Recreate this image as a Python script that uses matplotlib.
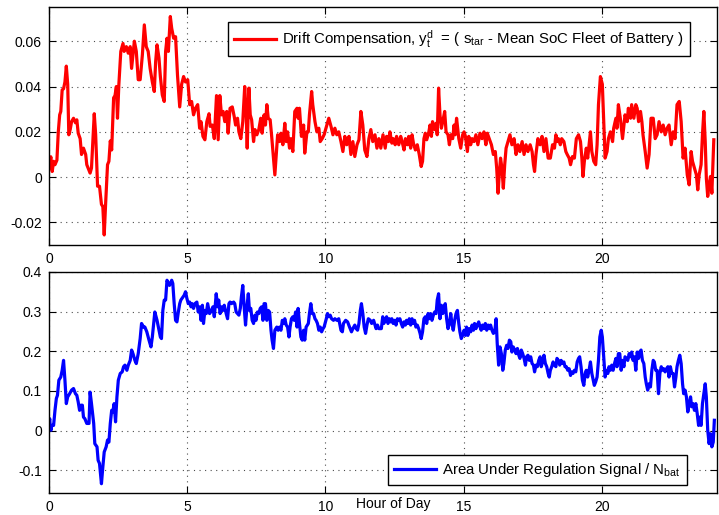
import matplotlib
matplotlib.use('Agg')
import matplotlib.pyplot as plt
from matplotlib.ticker import FormatStrFormatter

plt.rcParams['font.family'] = ['Liberation Sans', 'DejaVu Sans']
plt.rcParams['mathtext.fontset'] = 'custom'
plt.rcParams['mathtext.rm'] = 'Liberation Sans'
plt.rcParams['mathtext.it'] = 'Liberation Sans:italic'

# hour of day / drift compensation (top panel)
hours_drift = [
    0.00, 0.07, 0.12, 0.17, 0.22, 0.29, 0.34, 0.39, 0.43, 0.48, 0.53, 0.58, 0.63, 0.68, 0.72, 0.77,
    0.82, 0.89, 0.96, 1.01, 1.06, 1.13, 1.18, 1.25, 1.33, 1.37, 1.42, 1.49, 1.54, 1.64, 1.69, 1.76,
    1.83, 1.90, 1.95, 2.00, 2.05, 2.12, 2.17, 2.22, 2.27, 2.34, 2.39, 2.44, 2.48, 2.53, 2.60, 2.68,
    2.72, 2.80, 2.87, 2.94, 2.99, 3.04, 3.09, 3.16, 3.23, 3.30, 3.38, 3.45, 3.52, 3.59, 3.66, 3.74,
    3.81, 3.86, 3.91, 3.98, 4.03, 4.10, 4.17, 4.22, 4.27, 4.32, 4.39, 4.44, 4.51, 4.58, 4.65, 4.73,
    4.80, 4.87, 4.94, 5.02, 5.09, 5.16, 5.23, 5.30, 5.38, 5.45, 5.50, 5.57, 5.64, 5.71, 5.79, 5.83,
    5.91, 5.98, 6.06, 6.12, 6.18, 6.24, 6.30, 6.36, 6.43, 6.48, 6.55, 6.63, 6.70, 6.75, 6.82, 6.87,
    6.94, 7.01, 7.08, 7.13, 7.17, 7.23, 7.28, 7.33, 7.40, 7.45, 7.52, 7.59, 7.66, 7.71, 7.78, 7.83,
    7.88, 7.93, 8.00, 8.05, 8.10, 8.17, 8.22, 8.27, 8.34, 8.39, 8.46, 8.53, 8.58, 8.63, 8.70, 8.75,
    8.82, 8.89, 8.97, 9.01, 9.06, 9.13, 9.21, 9.25, 9.33, 9.38, 9.42, 9.50, 9.54, 9.62, 9.69, 9.76,
    9.81, 9.88, 9.95, 10.05, 10.12, 10.20, 10.27, 10.34, 10.41, 10.48, 10.56, 10.63, 10.70, 10.77,
    10.85, 10.92, 10.99, 11.06, 11.14, 11.21, 11.28, 11.35, 11.42, 11.50, 11.57, 11.64, 11.71,
    11.79, 11.86, 11.93, 12.00, 12.08, 12.16, 12.21, 12.28, 12.33, 12.40, 12.45, 12.52, 12.57,
    12.65, 12.72, 12.77, 12.84, 12.89, 12.96, 13.01, 13.08, 13.13, 13.18, 13.25, 13.32, 13.39,
    13.46, 13.51, 13.56, 13.61, 13.66, 13.73, 13.78, 13.83, 13.87, 13.95, 14.00, 14.04, 14.09,
    14.14, 14.19, 14.24, 14.31, 14.36, 14.43, 14.48, 14.53, 14.60, 14.65, 14.69, 14.74, 14.82,
    14.89, 14.96, 15.01, 15.06, 15.13, 15.18, 15.25, 15.30, 15.37, 15.44, 15.51, 15.59, 15.66,
    15.73, 15.80, 15.85, 15.92, 16.00, 16.07, 16.14, 16.19, 16.24, 16.29, 16.33, 16.38, 16.43,
    16.48, 16.53, 16.60, 16.67, 16.74, 16.82, 16.89, 16.96, 17.03, 17.11, 17.18, 17.25, 17.32,
    17.40, 17.47, 17.52, 17.56, 17.61, 17.68, 17.76, 17.83, 17.90, 17.97, 18.05, 18.13, 18.21,
    18.28, 18.33, 18.37, 18.42, 18.49, 18.54, 18.62, 18.69, 18.74, 18.81, 18.86, 18.93, 19.00,
    19.07, 19.15, 19.22, 19.27, 19.31, 19.36, 19.43, 19.48, 19.53, 19.58, 19.63, 19.70, 19.77,
    19.82, 19.87, 19.94, 20.01, 20.06, 20.11, 20.18, 20.23, 20.30, 20.38, 20.42, 20.50, 20.54,
    20.59, 20.66, 20.74, 20.79, 20.83, 20.91, 20.95, 21.03, 21.07, 21.15, 21.22, 21.27, 21.32,
    21.39, 21.44, 21.48, 21.56, 21.63, 21.70, 21.77, 21.85, 21.92, 21.99, 22.06, 22.14, 22.21,
    22.28, 22.35, 22.42, 22.50, 22.57, 22.64, 22.71, 22.79, 22.86, 22.93, 23.00, 23.08, 23.15,
    23.22, 23.27, 23.34, 23.41, 23.46, 23.51, 23.58, 23.63, 23.68, 23.73, 23.77, 23.82, 23.87,
    23.92, 23.97, 24.00, 24.04,
]
drift = [
    0.0040, 0.0090, 0.0025, 0.0070, 0.0055, 0.0075, 0.0200, 0.0275, 0.0290, 0.0385, 0.0390, 0.0420,
    0.0490, 0.0410, 0.0187, 0.0210, 0.0245, 0.0260, 0.0240, 0.0253, 0.0194, 0.0170, 0.0100, 0.0128,
    0.0100, 0.0055, 0.0040, 0.0018, 0.0040, 0.0280, 0.0190, -0.0040, -0.0040, -0.0120, -0.0130,
    -0.0255, -0.0120, 0.0055, 0.0070, 0.0160, 0.0120, 0.0350, 0.0360, 0.0400, 0.0260, 0.0410,
    0.0555, 0.0590, 0.0555, 0.0576, 0.0547, 0.0576, 0.0480, 0.0540, 0.0600, 0.0555, 0.0430, 0.0430,
    0.0540, 0.0672, 0.0576, 0.0555, 0.0480, 0.0420, 0.0378, 0.0510, 0.0584, 0.0525, 0.0444, 0.0363,
    0.0334, 0.0555, 0.0613, 0.0555, 0.0709, 0.0657, 0.0613, 0.0620, 0.0450, 0.0310, 0.0410, 0.0444,
    0.0420, 0.0430, 0.0320, 0.0334, 0.0275, 0.0304, 0.0320, 0.0216, 0.0245, 0.0180, 0.0165, 0.0245,
    0.0280, 0.0224, 0.0230, 0.0170, 0.0360, 0.0165, 0.0360, 0.0275, 0.0290, 0.0245, 0.0290, 0.0194,
    0.0304, 0.0310, 0.0268, 0.0230, 0.0260, 0.0200, 0.0170, 0.0245, 0.0400, 0.0290, 0.0128, 0.0393,
    0.0275, 0.0253, 0.0157, 0.0210, 0.0187, 0.0210, 0.0260, 0.0194, 0.0275, 0.0230, 0.0320, 0.0260,
    0.0253, 0.0187, 0.0113, 0.0010, 0.0100, 0.0187, 0.0157, 0.0194, 0.0143, 0.0238, 0.0157, 0.0200,
    0.0128, 0.0170, 0.0113, 0.0290, 0.0304, 0.0260, 0.0304, 0.0180, 0.0230, 0.0106, 0.0200, 0.0200,
    0.0275, 0.0378, 0.0320, 0.0245, 0.0200, 0.0216, 0.0157, 0.0170, 0.0187, 0.0230, 0.0260, 0.0224,
    0.0187, 0.0216, 0.0187, 0.0200, 0.0157, 0.0113, 0.0180, 0.0143, 0.0180, 0.0100, 0.0157, 0.0091,
    0.0143, 0.0165, 0.0290, 0.0230, 0.0120, 0.0091, 0.0170, 0.0210, 0.0157, 0.0187, 0.0128, 0.0170,
    0.0128, 0.0187, 0.0128, 0.0180, 0.0157, 0.0200, 0.0150, 0.0170, 0.0143, 0.0180, 0.0143, 0.0180,
    0.0157, 0.0120, 0.0170, 0.0143, 0.0180, 0.0128, 0.0187, 0.0150, 0.0120, 0.0143, 0.0100, 0.0047,
    0.0070, 0.0170, 0.0194, 0.0165, 0.0194, 0.0230, 0.0180, 0.0245, 0.0210, 0.0238, 0.0187, 0.0393,
    0.0275, 0.0216, 0.0245, 0.0290, 0.0200, 0.0187, 0.0143, 0.0187, 0.0170, 0.0230, 0.0187, 0.0260,
    0.0170, 0.0128, 0.0187, 0.0200, 0.0180, 0.0113, 0.0180, 0.0143, 0.0170, 0.0157, 0.0187, 0.0143,
    0.0194, 0.0170, 0.0200, 0.0143, 0.0194, 0.0170, 0.0143, 0.0100, 0.0113, 0.0040, -0.0071, 0.0025,
    0.0084, 0.0040, -0.0049, 0.0055, 0.0128, 0.0157, 0.0187, 0.0143, 0.0170, 0.0100, 0.0143, 0.0113,
    0.0157, 0.0100, 0.0143, 0.0113, 0.0143, 0.0113, 0.0055, 0.0025, 0.0100, 0.0170, 0.0143, 0.0180,
    0.0113, 0.0170, 0.0084, 0.0084, 0.0143, 0.0128, 0.0187, 0.0157, 0.0170, 0.0143, 0.0170, 0.0157,
    0.0113, 0.0100, 0.0084, 0.0055, 0.0091, 0.0084, 0.0170, 0.0187, 0.0157, 0.0084, 0.0003, 0.0070,
    0.0128, 0.0084, 0.0143, 0.0200, 0.0113, 0.0070, 0.0055, 0.0143, 0.0320, 0.0444, 0.0410, 0.0245,
    0.0084, 0.0113, 0.0170, 0.0200, 0.0157, 0.0216, 0.0260, 0.0216, 0.0320, 0.0260, 0.0170, 0.0230,
    0.0275, 0.0245, 0.0304, 0.0260, 0.0320, 0.0260, 0.0320, 0.0304, 0.0245, 0.0290, 0.0245, 0.0187,
    0.0113, 0.0040, 0.0100, 0.0260, 0.0260, 0.0170, 0.0187, 0.0245, 0.0200, 0.0230, 0.0187, 0.0216,
    0.0230, 0.0143, 0.0200, 0.0170, 0.0320, 0.0334, 0.0245, 0.0084, 0.0128, 0.0010, -0.0034, 0.0113,
    0.0070, 0.0040, 0.0010, -0.0056, 0.0010, 0.0055, 0.0187, 0.0290, 0.0157, -0.0004, -0.0085,
    -0.0034, 0.0003, -0.0071, 0.0025, 0.0165,
]

# hour of day / area under regulation signal (bottom panel)
hours_area = [
    0.00, 0.03, 0.05, 0.08, 0.10, 0.17, 0.22, 0.27, 0.31, 0.36, 0.43, 0.48, 0.53, 0.58, 0.63, 0.68,
    0.75, 0.82, 0.89, 0.96, 1.01, 1.06, 1.11, 1.16, 1.21, 1.25, 1.30, 1.37, 1.45, 1.49, 1.54, 1.62,
    1.66, 1.74, 1.78, 1.83, 1.90, 1.95, 2.00, 2.07, 2.12, 2.17, 2.22, 2.27, 2.31, 2.36, 2.41, 2.46,
    2.51, 2.58, 2.65, 2.70, 2.75, 2.82, 2.87, 2.94, 2.99, 3.04, 3.11, 3.16, 3.23, 3.30, 3.35, 3.42,
    3.47, 3.54, 3.62, 3.69, 3.74, 3.79, 3.83, 3.91, 3.98, 4.03, 4.07, 4.12, 4.17, 4.22, 4.27, 4.32,
    4.36, 4.44, 4.48, 4.53, 4.58, 4.63, 4.68, 4.73, 4.77, 4.85, 4.89, 4.94, 4.99, 5.04, 5.09, 5.14,
    5.18, 5.23, 5.28, 5.35, 5.40, 5.45, 5.50, 5.55, 5.59, 5.64, 5.69, 5.74, 5.81, 5.88, 5.93, 5.98,
    6.05, 6.10, 6.14, 6.19, 6.24, 6.29, 6.34, 6.41, 6.46, 6.51, 6.55, 6.60, 6.68, 6.72, 6.77, 6.82,
    6.87, 6.92, 6.96, 7.01, 7.06, 7.11, 7.16, 7.21, 7.25, 7.30, 7.35, 7.40, 7.45, 7.49, 7.54, 7.59,
    7.64, 7.69, 7.74, 7.78, 7.83, 7.88, 7.93, 7.98, 8.03, 8.07, 8.12, 8.17, 8.24, 8.29, 8.34, 8.39,
    8.44, 8.48, 8.53, 8.58, 8.63, 8.68, 8.72, 8.77, 8.82, 8.87, 8.92, 8.97, 9.01, 9.06, 9.11, 9.16,
    9.21, 9.25, 9.30, 9.38, 9.42, 9.47, 9.52, 9.57, 9.62, 9.66, 9.71, 9.76, 9.81, 9.86, 9.91, 9.95,
    10.03, 10.07, 10.12, 10.17, 10.22, 10.29, 10.34, 10.41, 10.48, 10.56, 10.61, 10.65, 10.73,
    10.80, 10.87, 10.94, 10.99, 11.06, 11.11, 11.16, 11.21, 11.26, 11.30, 11.35, 11.40, 11.45,
    11.50, 11.55, 11.62, 11.67, 11.74, 11.79, 11.83, 11.88, 11.93, 12.02, 12.07, 12.11, 12.16,
    12.21, 12.26, 12.31, 12.36, 12.40, 12.45, 12.50, 12.55, 12.60, 12.65, 12.69, 12.74, 12.79,
    12.84, 12.89, 12.93, 12.98, 13.03, 13.08, 13.13, 13.18, 13.22, 13.27, 13.32, 13.37, 13.42,
    13.46, 13.51, 13.56, 13.61, 13.66, 13.71, 13.75, 13.80, 13.85, 13.90, 13.95, 14.00, 14.04,
    14.09, 14.14, 14.19, 14.24, 14.28, 14.33, 14.38, 14.43, 14.48, 14.53, 14.57, 14.62, 14.67,
    14.72, 14.77, 14.82, 14.86, 14.91, 14.96, 15.01, 15.06, 15.10, 15.15, 15.20, 15.25, 15.30,
    15.35, 15.39, 15.44, 15.49, 15.54, 15.59, 15.63, 15.68, 15.73, 15.78, 15.83, 15.88, 15.92,
    15.97, 16.02, 16.07, 16.12, 16.17, 16.21, 16.26, 16.31, 16.36, 16.41, 16.45, 16.50, 16.55,
    16.60, 16.65, 16.70, 16.74, 16.79, 16.84, 16.89, 16.94, 16.99, 17.03, 17.08, 17.13, 17.18,
    17.23, 17.27, 17.32, 17.37, 17.42, 17.47, 17.52, 17.56, 17.61, 17.66, 17.71, 17.76, 17.80,
    17.85, 17.90, 17.95, 18.00, 18.05, 18.09, 18.13, 18.18, 18.23, 18.28, 18.33, 18.37, 18.42,
    18.47, 18.52, 18.57, 18.62, 18.66, 18.71, 18.76, 18.81, 18.86, 18.90, 18.95, 19.00, 19.05,
    19.10, 19.15, 19.19, 19.24, 19.29, 19.34, 19.39, 19.43, 19.48, 19.53, 19.58, 19.63, 19.68,
    19.72, 19.77, 19.82, 19.87, 19.92, 19.97, 20.01, 20.06, 20.11, 20.16, 20.21, 20.25, 20.30,
    20.35, 20.40, 20.45, 20.50, 20.54, 20.59, 20.64, 20.69, 20.74, 20.79, 20.83, 20.88, 20.93,
    20.98, 21.03, 21.07, 21.12, 21.17, 21.22, 21.27, 21.32, 21.36, 21.41, 21.46, 21.51, 21.56,
    21.60, 21.65, 21.70, 21.75, 21.80, 21.85, 21.89, 21.94, 21.99, 22.04, 22.09, 22.14, 22.18,
    22.23, 22.28, 22.33, 22.38, 22.42, 22.47, 22.52, 22.57, 22.62, 22.67, 22.71, 22.76, 22.81,
    22.86, 22.91, 22.95, 23.00, 23.05, 23.10, 23.15, 23.20, 23.24, 23.29, 23.34, 23.39, 23.44,
    23.49, 23.53, 23.58, 23.63, 23.68, 23.73, 23.77, 23.82, 23.87, 23.92, 23.97, 24.02, 24.06,
]
area = [
    0.018, 0.030, 0.009, 0.001, 0.013, 0.013, 0.051, 0.081, 0.089, 0.127, 0.135, 0.152, 0.177, 0.127,
    0.068, 0.085, 0.093, 0.102, 0.106, 0.093, 0.089, 0.072, 0.051, 0.064, 0.064, 0.034, 0.030, 0.018,
    0.018, 0.097, 0.068, 0.018, -0.033, -0.041, -0.075, -0.083, -0.134, -0.092, -0.054, -0.041,
    -0.024, -0.029, 0.018, 0.051, 0.047, 0.068, 0.022, 0.085, 0.127, 0.144, 0.148, 0.161, 0.165,
    0.152, 0.165, 0.177, 0.203, 0.194, 0.177, 0.169, 0.194, 0.232, 0.270, 0.261, 0.261, 0.249, 0.228,
    0.211, 0.236, 0.270, 0.299, 0.278, 0.253, 0.236, 0.232, 0.303, 0.329, 0.329, 0.379, 0.371, 0.366,
    0.379, 0.371, 0.320, 0.278, 0.274, 0.299, 0.320, 0.329, 0.337, 0.341, 0.350, 0.333, 0.320, 0.324,
    0.312, 0.320, 0.308, 0.320, 0.324, 0.299, 0.312, 0.278, 0.316, 0.270, 0.303, 0.295, 0.320, 0.295,
    0.303, 0.312, 0.287, 0.345, 0.312, 0.329, 0.295, 0.312, 0.303, 0.316, 0.295, 0.282, 0.320, 0.324,
    0.320, 0.324, 0.320, 0.299, 0.295, 0.291, 0.308, 0.337, 0.366, 0.312, 0.266, 0.312, 0.345, 0.303,
    0.308, 0.278, 0.270, 0.291, 0.278, 0.299, 0.295, 0.308, 0.312, 0.278, 0.320, 0.320, 0.278, 0.303,
    0.299, 0.253, 0.228, 0.207, 0.253, 0.261, 0.253, 0.261, 0.253, 0.278, 0.270, 0.282, 0.266, 0.261,
    0.236, 0.261, 0.282, 0.287, 0.278, 0.299, 0.261, 0.308, 0.270, 0.236, 0.228, 0.253, 0.228, 0.261,
    0.270, 0.295, 0.320, 0.295, 0.295, 0.282, 0.278, 0.270, 0.253, 0.261, 0.249, 0.257, 0.261, 0.282,
    0.295, 0.287, 0.291, 0.282, 0.278, 0.282, 0.278, 0.282, 0.253, 0.249, 0.270, 0.278, 0.274, 0.261,
    0.249, 0.257, 0.266, 0.257, 0.253, 0.270, 0.303, 0.320, 0.295, 0.261, 0.245, 0.266, 0.282, 0.278,
    0.270, 0.278, 0.266, 0.257, 0.266, 0.257, 0.257, 0.287, 0.270, 0.278, 0.287, 0.270, 0.282, 0.274,
    0.282, 0.270, 0.278, 0.266, 0.282, 0.278, 0.282, 0.270, 0.261, 0.274, 0.266, 0.278, 0.270, 0.282,
    0.266, 0.282, 0.270, 0.278, 0.261, 0.266, 0.257, 0.245, 0.232, 0.249, 0.282, 0.287, 0.270, 0.295,
    0.282, 0.295, 0.278, 0.291, 0.299, 0.295, 0.329, 0.345, 0.282, 0.316, 0.295, 0.308, 0.320, 0.282,
    0.257, 0.270, 0.295, 0.270, 0.253, 0.278, 0.295, 0.303, 0.270, 0.249, 0.232, 0.240, 0.253, 0.240,
    0.261, 0.240, 0.257, 0.249, 0.266, 0.253, 0.270, 0.257, 0.266, 0.274, 0.261, 0.253, 0.266, 0.257,
    0.270, 0.253, 0.266, 0.257, 0.266, 0.253, 0.245, 0.249, 0.282, 0.219, 0.165, 0.211, 0.194, 0.152,
    0.169, 0.203, 0.215, 0.207, 0.228, 0.224, 0.198, 0.211, 0.203, 0.194, 0.207, 0.190, 0.182, 0.203,
    0.194, 0.182, 0.165, 0.186, 0.190, 0.177, 0.186, 0.169, 0.165, 0.148, 0.165, 0.161, 0.177, 0.186,
    0.161, 0.173, 0.190, 0.169, 0.161, 0.144, 0.135, 0.152, 0.161, 0.173, 0.165, 0.161, 0.182, 0.177,
    0.165, 0.177, 0.169, 0.173, 0.161, 0.161, 0.152, 0.156, 0.139, 0.148, 0.144, 0.152, 0.148, 0.173,
    0.182, 0.186, 0.161, 0.127, 0.114, 0.144, 0.152, 0.135, 0.152, 0.173, 0.144, 0.127, 0.114, 0.123,
    0.135, 0.177, 0.236, 0.253, 0.236, 0.186, 0.135, 0.152, 0.144, 0.161, 0.152, 0.165, 0.152, 0.169,
    0.182, 0.161, 0.194, 0.194, 0.152, 0.177, 0.161, 0.186, 0.182, 0.177, 0.194, 0.186, 0.198, 0.177,
    0.186, 0.152, 0.198, 0.182, 0.198, 0.203, 0.177, 0.169, 0.135, 0.118, 0.102, 0.118, 0.110, 0.152,
    0.177, 0.173, 0.152, 0.152, 0.093, 0.144, 0.161, 0.152, 0.156, 0.148, 0.156, 0.161, 0.135, 0.161,
    0.144, 0.144, 0.110, 0.135, 0.161, 0.177, 0.190, 0.169, 0.118, 0.093, 0.102, 0.085, 0.047, 0.068,
    0.085, 0.060, 0.068, 0.051, 0.068, 0.043, 0.013, 0.034, 0.013, 0.068, 0.093, 0.118, 0.085, 0.001,
    -0.033, -0.008, -0.041, -0.029, 0.026,
]

x_ticks = [0, 5, 10, 15, 20]
drift_ticks = [-0.02, 0, 0.02, 0.04, 0.06]
area_ticks = [-0.1, 0, 0.1, 0.2, 0.3, 0.4]

fig = plt.figure(figsize=(7.19, 5.15), dpi=100)
ax1 = fig.add_axes([0.068, 0.524, 0.929, 0.462])
ax2 = fig.add_axes([0.068, 0.043, 0.929, 0.429])

ax1.plot(hours_drift, drift, color='red', lw=2.3,
         label=r'Drift Compensation, $\mathrm{y_t^d}$  = ( $\mathrm{s_{tar}}$ - Mean SoC Fleet of Battery )')
ax2.plot(hours_area, area, color='blue', lw=2.3,
         label=r'Area Under Regulation Signal / $\mathrm{N_{bat}}$')

ax1.set_ylim(-0.03, 0.075)
ax1.set_yticks(drift_ticks)
ax2.set_ylim(-0.157, 0.4)
ax2.set_yticks(area_ticks)

for ax in (ax1, ax2):
    ax.set_xlim(0, 24.15)
    ax.set_xticks(x_ticks)
    ax.yaxis.set_major_formatter(FormatStrFormatter('%g'))
    ax.grid(True, linestyle=(0, (1, 4)), color='0.3', lw=0.8)
    ax.tick_params(direction='in', top=True, right=True, length=5, labelsize=10, pad=5)
    for s in ax.spines.values():
        s.set_linewidth(1.0)

ax1.legend(loc='upper right', bbox_to_anchor=(0.96, 0.937), borderaxespad=0,
           fancybox=False, framealpha=1, edgecolor='black', fontsize=10.8,
           handlelength=2.8, handletextpad=0.45)
ax2.legend(loc='lower right', bbox_to_anchor=(0.955, 0.036), borderaxespad=0,
           fancybox=False, framealpha=1, edgecolor='black', fontsize=10.8,
           handlelength=2.8, handletextpad=0.45)

fig.text(0.547, 0.021, 'Hour of Day', ha='center', va='center', fontsize=10)

fig.savefig('out.png', dpi=100)
